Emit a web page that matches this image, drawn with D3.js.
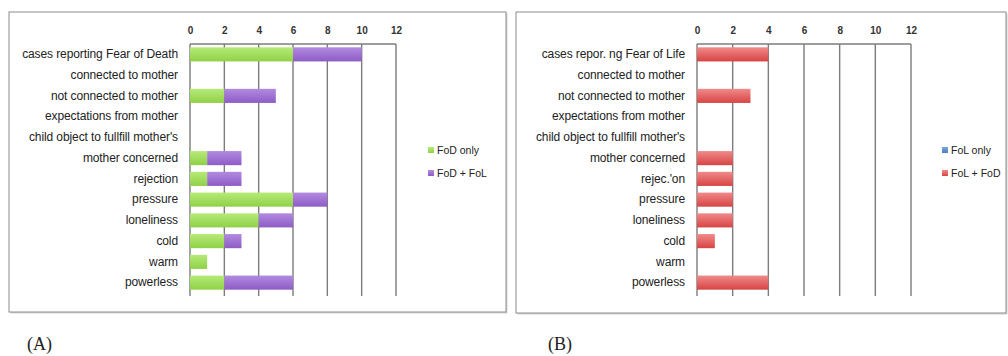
<!DOCTYPE html>
<html>
<head>
<meta charset="UTF-8">
<script src="https://d3js.org/d3.v7.min.js"></script>
<style>
  body { margin: 0; background: #fff; }
</style>
</head>
<body>
<svg id="chart" width="1008" height="356"></svg>
<script>
const catsA = ["cases reporting Fear of Death", "connected to mother", "not connected to mother",
  "expectations from mother", "child object to fullfill mother's", "mother concerned", "rejection",
  "pressure", "loneliness", "cold", "warm", "powerless"];
const catsB = ["cases repor. ng Fear of Life", "connected to mother", "not connected to mother",
  "expectations from mother", "child object to fullfill mother's", "mother concerned", "rejec.'on",
  "pressure", "loneliness", "cold", "warm", "powerless"];
const fodOnly   = [6, 0, 2, 0, 0, 1, 1, 6, 4, 2, 1, 2];
const fodPlusFol = [4, 0, 3, 0, 0, 2, 2, 2, 2, 1, 0, 4];
const folOnly   = [0, 0, 0, 0, 0, 0, 0, 0, 0, 0, 0, 0];
const folPlusFod = [4, 0, 3, 0, 0, 2, 2, 2, 2, 1, 0, 4];
const xTicks = [0, 2, 4, 6, 8, 10, 12];

const sans = "'Liberation Sans', Arial, sans-serif";
const svg = d3.select("#chart");
const defs = svg.append("defs");

function grad(id, top, bottom) {
  const g = defs.append("linearGradient").attr("id", id)
    .attr("x1", 0).attr("y1", 0).attr("x2", 0).attr("y2", 1);
  g.append("stop").attr("offset", "0%").attr("stop-color", top);
  g.append("stop").attr("offset", "100%").attr("stop-color", bottom);
}
grad("gGreen", "#b6ea78", "#8fd147");
grad("gPurple", "#b28ae0", "#8e5cc6");
grad("gRed", "#f08a8a", "#d84444");
grad("gBlue", "#7aa6dc", "#4a7fc0");

function panel(o) {
  // frame
  svg.append("rect").attr("x", o.fx + 1.5).attr("y", o.fy + 1.5)
    .attr("width", o.fw).attr("height", o.fh).attr("fill", "#d4d4d4");
  svg.append("rect").attr("x", o.fx).attr("y", o.fy)
    .attr("width", o.fw).attr("height", o.fh)
    .attr("fill", "#fff").attr("stroke", "#8c8c8c").attr("stroke-width", 1);

  const x = d3.scaleLinear().domain([0, 12]).range([o.x0, o.x1]);
  const y = d3.scaleBand().domain(o.cats).range([44, 293]).paddingInner(0.32).paddingOuter(0.16);

  // grid
  svg.append("g").selectAll("line").data(xTicks).join("line")
    .attr("x1", d => x(d)).attr("x2", d => x(d))
    .attr("y1", 44).attr("y2", 296)
    .attr("stroke", "#7c7c7c").attr("stroke-width", 1.4);
  svg.append("line").attr("x1", x(0)).attr("x2", x(12)).attr("y1", 44).attr("y2", 44)
    .attr("stroke", "#7c7c7c").attr("stroke-width", 1.4);

  // top axis labels
  const ax = svg.append("g").attr("transform", "translate(0,34)")
    .call(d3.axisTop(x).tickValues(xTicks).tickSize(0).tickPadding(0));
  ax.select(".domain").remove();
  ax.selectAll("text").style("font-size", "10px").style("font-weight", "bold")
    .style("font-family", sans).attr("fill", "#333");

  // category labels
  const ay = svg.append("g").attr("transform", `translate(${x(0) - 12},0)`)
    .call(d3.axisLeft(y).tickSize(0).tickPadding(0));
  ay.select(".domain").remove();
  ay.selectAll("text").style("font-size", "12px").style("font-family", sans)
    .style("letter-spacing", "-0.1px").attr("fill", "#222");

  // stacked bars
  const rows = o.cats.map((c, i) => ({ c, a: o.s1[i], b: o.s2[i] }));
  const h = y.bandwidth();
  svg.append("g").selectAll("rect").data(rows).join("rect")
    .attr("x", d => x(0)).attr("y", d => y(d.c))
    .attr("width", d => x(d.a) - x(0)).attr("height", h)
    .attr("fill", `url(#${o.c1})`);
  svg.append("g").selectAll("rect").data(rows).join("rect")
    .attr("x", d => x(d.a)).attr("y", d => y(d.c))
    .attr("width", d => x(d.a + d.b) - x(d.a)).attr("height", h)
    .attr("fill", `url(#${o.c2})`);

  // legend
  const lg = svg.append("g");
  [[o.l1, o.c1, 150], [o.l2, o.c2, 173]].forEach(([t, c, ly]) => {
    lg.append("rect").attr("x", o.lx).attr("y", ly - 3).attr("width", 6).attr("height", 6)
      .attr("fill", `url(#${c})`);
    lg.append("text").attr("x", o.lx + 9).attr("y", ly + 3.5)
      .style("font-size", "10.5px").style("font-family", sans).attr("fill", "#222").text(t);
  });

  svg.append("text").attr("x", o.capx).attr("y", 350)
    .style("font-family", "'Liberation Serif', 'Times New Roman', serif")
    .style("font-size", "18px").attr("fill", "#222").text(o.cap);
}

panel({ fx: 9, fy: 12, fw: 497, fh: 300, x0: 190, x1: 396, cats: catsA,
  s1: fodOnly, s2: fodPlusFol, c1: "gGreen", c2: "gPurple",
  l1: "FoD only", l2: "FoD + FoL", lx: 428, cap: "(A)", capx: 27 });
panel({ fx: 516, fy: 12, fw: 490, fh: 301, x0: 697, x1: 911, cats: catsB,
  s1: folOnly, s2: folPlusFod, c1: "gBlue", c2: "gRed",
  l1: "FoL only", l2: "FoL + FoD", lx: 942, cap: "(B)", capx: 548 });
</script>
</body>
</html>
